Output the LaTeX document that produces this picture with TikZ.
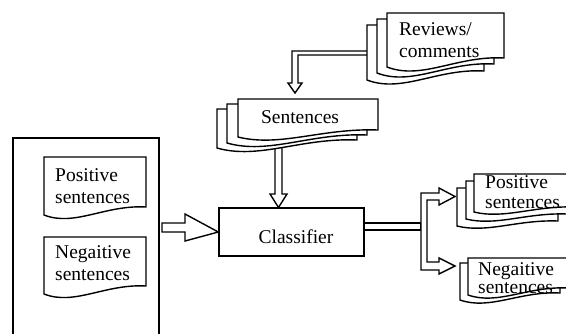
\documentclass[tikz,border=0pt]{standalone}
\usepackage{fontspec}
\setmainfont{Liberation Serif}
\newcommand\docshp[5]{%
  \filldraw[docsty] ({#1+#3},{#2+#4-#5}) -- ({#1+#3},#2) -- (#1,#2) -- (#1,{#2+#4})
    .. controls ({#1+0.3*#3},{#2+#4+1.5*#5}) and ({#1+0.6*#3},{#2+#4-1.3*#5}) .. ({#1+#3},{#2+#4-#5}) -- cycle;}
\tikzset{
  docsty/.style={draw=black, fill=white, line width=1.4pt, line join=miter},
  ln/.style={draw=black, line width=1.4pt, line join=miter},
  hollow/.style={draw=black, fill=white, line width=1.4pt, line join=miter},
  txt/.style={inner sep=0pt, anchor=base west, font=\fontsize{19.5}{22}\selectfont},
}
\begin{document}
\begin{tikzpicture}[x=1pt,y=-1pt]
\useasboundingbox (0,0) rectangle (566,333);
\clip (0,0) rectangle (566,333);
% big left box
\draw[ln] (13,345) -- (13,138) -- (159,138) -- (159,345);
% left documents
\docshp{44}{157}{102}{58}{8}
\docshp{44}{237}{102}{57}{8}
% classifier
\node[ln, fill=white, minimum width=145pt, minimum height=48pt, inner sep=0pt] (cls) at (291.5,232) {};
% arrows
\coordinate (bigR) at (159,227.5);
\filldraw[hollow] (162,223) -- (185,223) -- (185,214) -- (cls.west) -- (185,241) -- (185,232) -- (162,232) -- cycle;
\filldraw[hollow] (367,51) -- (292,51) -- (292,83) -- (288,83) -- (295,93) -- (302,83) -- (298,83) -- (298,55) -- (367,55);
\filldraw[hollow] (275,140) -- (275,194) -- (270,194) -- (278.5,207.5) -- (287,194) -- (282,194) -- (282,140);
\filldraw[hollow] (cls.east |- 0,223) rectangle (421,230);
\filldraw[hollow] (421,193) -- (439,193) -- (439,188) -- (455,196.5) -- (439,205) -- (439,200) -- (427,200)
  -- (427,262) -- (439,262) -- (439,258) -- (455,266) -- (439,274) -- (439,270) -- (421,270) -- cycle;
% Reviews stack
\docshp{367}{25}{117}{55}{9}
\docshp{377}{19}{117}{54}{9}
\docshp{387}{13}{117}{54}{9}
% Sentences stack
\docshp{217}{109}{140}{39}{8}
\docshp{227}{104}{140}{39}{8}
\docshp{238}{99}{140}{38}{7}
% right Positive stack
\docshp{457}{188}{101}{38}{5}
\docshp{466}{181}{101}{38}{5}
\docshp{474}{174}{101}{38}{5}
% right Negative stack
\docshp{460}{263}{100}{37}{7}
\docshp{468}{258}{100}{37}{7}
% texts
\node[txt] (rv1) at (399,35) {Reviews/};
\node[txt] (rv2) at (399,57) {comments};
\node[txt, anchor=base] (sen) at (300,123) {Sentences};
\node[txt, anchor=base] (clt) at (296,243) {Classifier};
\node[txt] (lp1) at (55,181) {Positive};
\node[txt] (lp2) at (55,203) {sentences};
\node[txt] (ln1) at (55,258) {Negaitive};
\node[txt] (ln2) at (55,280) {sentences};
\node[txt] (rp1) at (485,188) {Positive};
\node[txt] (rp2) at (485,208) {sentences};
\node[txt] (rn1) at (478,275) {Negaitive};
\node[txt] (rn2) at (478,293) {sentences};
\end{tikzpicture}
\end{document}
